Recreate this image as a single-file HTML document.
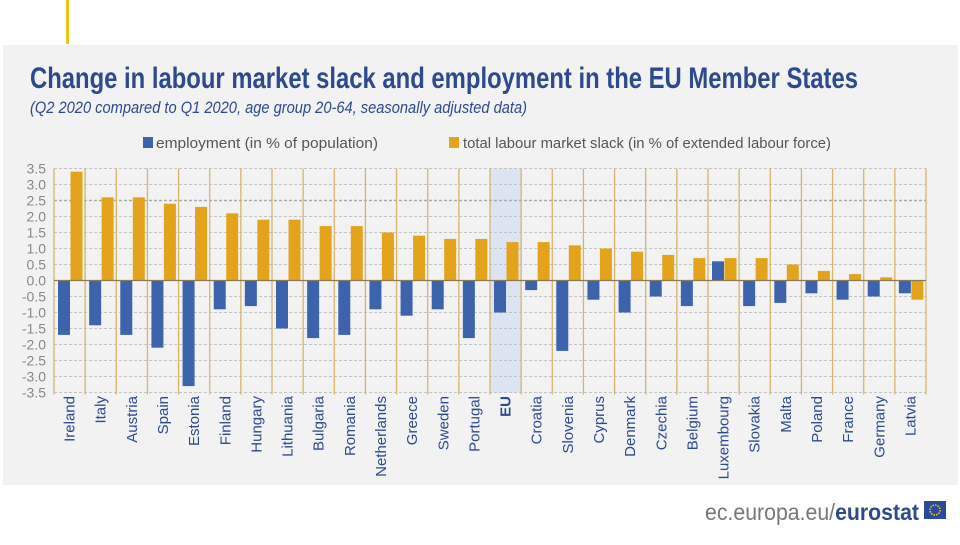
<!DOCTYPE html>
<html><head><meta charset="utf-8"><style>
body{margin:0;background:#fff;width:960px;height:540px;overflow:hidden;font-family:"Liberation Sans Narrow","Liberation Sans",sans-serif}
</style></head><body>
<svg id="c" width="960" height="540" xmlns="http://www.w3.org/2000/svg">
<rect x="66" y="0" width="3" height="44" fill="#f0c419"/>
<rect x="3" y="45" width="955" height="440" fill="#f2f2f2"/>
<text x="30" y="88" font-size="30" font-weight="bold" fill="#2c4a8c" textLength="828" lengthAdjust="spacingAndGlyphs">Change in labour market slack and employment in the EU Member States</text>
<text x="30" y="113" font-size="17" font-style="italic" fill="#2c4a8c" textLength="497" lengthAdjust="spacingAndGlyphs">(Q2 2020 compared to Q1 2020,  age group 20-64, seasonally adjusted data)</text>
<g>
<rect x="143" y="137" width="10" height="11" fill="#3d63ad"/>
<text x="156" y="148" font-size="15" fill="#555" textLength="222" lengthAdjust="spacingAndGlyphs">employment  (in % of population)</text>
<rect x="449" y="137" width="10" height="11" fill="#e3a41c"/>
<text x="463" y="148" font-size="15" fill="#555" textLength="368" lengthAdjust="spacingAndGlyphs">total labour market slack (in % of extended labour force)</text>
</g>
<g id="plot"></g>
<text x="705" y="520" font-size="23" fill="#777" font-family="Liberation Sans, sans-serif" textLength="214" lengthAdjust="spacingAndGlyphs">ec.europa.eu/<tspan font-weight="bold" fill="#2c4a8c">eurostat</tspan></text>
<rect x="924" y="501" width="22" height="18" fill="#2c4a9c"/>
<circle cx="935" cy="510" r="5" fill="none" stroke="#f0c419" stroke-width="1.5" stroke-dasharray="1.5 1.1"/>
</svg>
<script>
const categories=["Ireland","Italy","Austria","Spain","Estonia","Finland","Hungary","Lithuania","Bulgaria","Romania","Netherlands","Greece","Sweden","Portugal","EU","Croatia","Slovenia","Cyprus","Denmark","Czechia","Belgium","Luxembourg","Slovakia","Malta","Poland","France","Germany","Latvia"];
const employment=[-1.7,-1.4,-1.7,-2.1,-3.3,-0.9,-0.8,-1.5,-1.8,-1.7,-0.9,-1.1,-0.9,-1.8,-1.0,-0.3,-2.2,-0.6,-1.0,-0.5,-0.8,0.6,-0.8,-0.7,-0.4,-0.6,-0.5,-0.4];
const slack=[3.4,2.6,2.6,2.4,2.3,2.1,1.9,1.9,1.7,1.7,1.5,1.4,1.3,1.3,1.2,1.2,1.1,1.0,0.9,0.8,0.7,0.7,0.7,0.5,0.3,0.2,0.1,-0.6];
const yTicks=[3.5,3.0,2.5,2.0,1.5,1.0,0.5,0.0,-0.5,-1.0,-1.5,-2.0,-2.5,-3.0,-3.5];
const NS="http://www.w3.org/2000/svg";
const g=document.getElementById('plot');
const L=54,R=926,Y0=280.5,PU=32;
const bw=(R-L)/categories.length;
const y=v=>Y0-v*PU;
const x=i=>L+i*bw;
function mk(t,a){const e=document.createElementNS(NS,t);for(const k in a)e.setAttribute(k,a[k]);g.appendChild(e);return e;}
const eu=categories.indexOf("EU");
let hl=mk('rect',{x:x(eu),y:y(3.5),width:bw,height:y(-3.5)-y(3.5),fill:"#dbe4f3"});


yTicks.forEach(t=>{
 if(Math.abs(t)<1e-9)return;
 let l=mk('line',{x1:L,x2:R,y1:y(t),y2:y(t),stroke:t===2.5?"#aaa":"#c4c4c4","stroke-width":t===2.5?1.5:1,"stroke-dasharray":"3 2"});
 
 
});
yTicks.forEach(t=>{
 let tx=mk('text',{x:46,y:y(t)+5,"font-size":14,fill:"#888","text-anchor":"end"});
 tx.textContent=t.toFixed(1);
 
 
});
for(let i=0;i<=categories.length;i++){
 let l=mk('line',{x1:x(i),x2:x(i),y1:y(3.5),y2:y(-3.5)+2,stroke:"#d7b46a","stroke-width":1.3});
 
 
}
categories.forEach((c,i)=>{
 const e=employment[i],s=slack[i];
 let b1=mk('rect',{x:x(i)+4,y:Math.min(y(e),Y0),width:12,height:Math.abs(y(e)-Y0),fill:"#3d63ad"});
 
 
 let b2=mk('rect',{x:x(i)+16.5,y:Math.min(y(s),Y0),width:12,height:Math.abs(y(s)-Y0),fill:"#e3a41c"});
 
 
 const cx=x(i)+bw/2+5;
 let t=mk('text',{x:cx,y:396,"font-size":15,fill:"#2c4a8c","font-weight":c==="EU"?"bold":"normal","text-anchor":"end",transform:`rotate(-90 ${cx} 396)`});
 t.textContent=c;
 
 
});
let ax=mk('line',{x1:L,x2:R,y1:Y0,y2:Y0,stroke:"#8a7a55","stroke-width":1.2});


</script>
</body></html>
